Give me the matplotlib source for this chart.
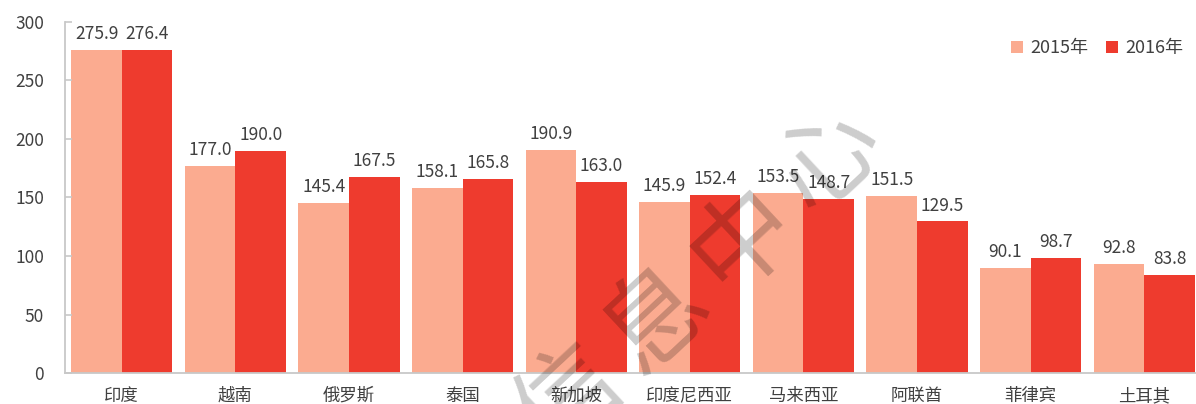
import matplotlib
matplotlib.use("Agg")
import matplotlib.pyplot as plt
import numpy as np

plt.rcParams['font.family'] = ['Noto Sans CJK SC', 'DejaVu Sans']

categories = ["印度", "越南", "俄罗斯", "泰国", "新加坡", "印度尼西亚", "马来西亚", "阿联酋", "菲律宾", "土耳其"]
values_2015 = [275.9, 177.0, 145.4, 158.1, 190.9, 145.9, 153.5, 151.5, 90.1, 92.8]
values_2016 = [276.4, 190.0, 167.5, 165.8, 163.0, 152.4, 148.7, 129.5, 98.7, 83.8]
series_labels = ["2015年", "2016年"]
y_ticks = [0, 50, 100, 150, 200, 250, 300]
watermark_chars = ["信", "息", "中", "心"]

c15 = "#FBAB90"
c16 = "#EE3B2E"
txt = "#404040"
grid_c = "#C8C8C8"

W, H = 1196, 404
fig = plt.figure(figsize=(W/100, H/100), dpi=100)
ax = fig.add_axes([65/W, 1-373/H, 1136/W, (373-22)/H])

x = np.arange(len(categories))
w = 0.445
b1 = ax.bar(x - w/2, values_2015, w, color=c15, label=series_labels[0])
b2 = ax.bar(x + w/2, values_2016, w, color=c16, label=series_labels[1])

for bars, vals in ((b1, values_2015), (b2, values_2016)):
    for r, v in zip(bars, vals):
        ax.annotate(f"{v:.1f}", (r.get_x() + r.get_width()/2, r.get_height()),
                    xytext=(0, 5), textcoords="offset points",
                    ha="center", va="bottom", fontsize=12.5, color=txt)

ax.set_xlim(-0.5, len(categories) - 0.5)
ax.set_ylim(0, 300)
ax.set_yticks(y_ticks)
ax.set_xticks(x)
ax.set_xticklabels(categories, fontsize=12.5, color=txt)
ax.tick_params(axis='y', labelsize=12.5, colors=txt, direction='in', length=5,
               color=grid_c, width=1.2, pad=15)
ax.tick_params(axis='x', length=0, pad=10)
for s in ("top", "right"):
    ax.spines[s].set_visible(False)
for s in ("left", "bottom"):
    ax.spines[s].set_color(grid_c)
    ax.spines[s].set_linewidth(1.3)

leg = fig.legend(handles=[b1, b2], labels=series_labels, loc="center right",
                 bbox_to_anchor=(1183/W, 1-48/H), ncol=2, frameon=False,
                 fontsize=13, handlelength=0.65, handleheight=0.65, handletextpad=0.4,
                 columnspacing=1.0, borderpad=0, borderaxespad=0)
for t in leg.get_texts():
    t.set_color(txt)

# watermark characters along a diagonal line
start = np.array([570.0, 400.0])
step = np.array([86.5, -80.0])
for i, ch in enumerate(watermark_chars):
    px, py = start + i * step
    fig.text(px/W, 1-py/H, ch, fontsize=74, color="black", alpha=0.2,
             rotation=43, ha="center", va="center", rotation_mode="anchor")

fig.savefig("out.png", dpi=100)
